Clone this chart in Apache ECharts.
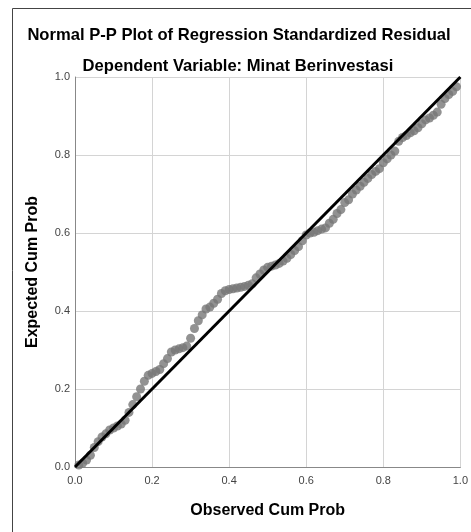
<!DOCTYPE html>
<html lang="en">

<head>
  <meta charset="UTF-8">
  <title>Normal P-P Plot</title>
  <script src="https://cdn.jsdelivr.net/npm/echarts@6/dist/echarts.min.js"></script>
</head>

<body style="margin:0">
  <div id="chart" style="width: 471px; height: 532px;"></div>
  <script>
    // observed cum prob (x) and expected cum prob (y)
    var observed = [
      0.01, 0.02, 0.03, 0.04, 0.05, 0.06, 0.07, 0.08, 0.09, 0.10,
      0.11, 0.12, 0.13, 0.14, 0.15, 0.16, 0.17, 0.18, 0.19, 0.20,
      0.21, 0.22, 0.23, 0.24, 0.25, 0.26, 0.27, 0.28, 0.29, 0.30,
      0.31, 0.32, 0.33, 0.34, 0.35, 0.36, 0.37, 0.38, 0.39, 0.40,
      0.41, 0.42, 0.43, 0.44, 0.45, 0.46, 0.47, 0.48, 0.49, 0.50,
      0.51, 0.52, 0.53, 0.54, 0.55, 0.56, 0.57, 0.58, 0.59, 0.60,
      0.61, 0.62, 0.63, 0.64, 0.65, 0.66, 0.67, 0.68, 0.69, 0.70,
      0.71, 0.72, 0.73, 0.74, 0.75, 0.76, 0.77, 0.78, 0.79, 0.80,
      0.81, 0.82, 0.83, 0.84, 0.85, 0.86, 0.87, 0.88, 0.89, 0.90,
      0.91, 0.92, 0.93, 0.94, 0.95, 0.96, 0.97, 0.98, 0.99
    ];
    var expected = [
      0.005, 0.01, 0.018, 0.03, 0.05, 0.065, 0.077, 0.085, 0.095, 0.10,
      0.105, 0.11, 0.12, 0.14, 0.16, 0.18, 0.20, 0.22, 0.235, 0.24,
      0.245, 0.25, 0.265, 0.278, 0.295, 0.30, 0.303, 0.306, 0.31, 0.33,
      0.355, 0.375, 0.39, 0.405, 0.41, 0.42, 0.43, 0.445, 0.452, 0.455,
      0.457, 0.459, 0.461, 0.463, 0.466, 0.47, 0.485, 0.495, 0.505, 0.512,
      0.515, 0.518, 0.522, 0.528, 0.535, 0.545, 0.555, 0.565, 0.58, 0.595,
      0.60, 0.602, 0.606, 0.61, 0.613, 0.625, 0.635, 0.65, 0.66, 0.678,
      0.685, 0.70, 0.71, 0.72, 0.73, 0.74, 0.75, 0.758, 0.765, 0.78,
      0.79, 0.80, 0.81, 0.835, 0.845, 0.85, 0.857, 0.862, 0.87, 0.88,
      0.89, 0.895, 0.902, 0.91, 0.93, 0.945, 0.955, 0.963, 0.975
    ];
    var diagonal = [[0, 0], [1, 1]];
    var ticks = [0, 0.2, 0.4, 0.6, 0.8, 1.0];

    var points = observed.map(function (x, i) { return [x, expected[i]]; });

    var myChart = echarts.init(document.getElementById('chart'));
    var font = 'Liberation Sans, Arial, sans-serif';

    var option = {
      animation: false,
      backgroundColor: '#fff',
      graphic: [{
        type: 'rect',
        shape: { x: 12.5, y: 8.5, width: 600, height: 600 },
        style: { fill: 'none', stroke: '#444', lineWidth: 1 }
      }],
      title: [{
        text: 'Normal P-P Plot of Regression Standardized Residual',
        left: 234, top: 22, textAlign: 'center',
        textStyle: { fontFamily: font, fontSize: 16.6, fontWeight: 'bold', color: '#000' }
      }, {
        text: 'Dependent Variable: Minat Berinvestasi',
        left: 233, top: 53, textAlign: 'center',
        textStyle: { fontFamily: font, fontSize: 16.6, fontWeight: 'bold', color: '#000' }
      }],
      grid: { left: 75, top: 77, width: 390, height: 390 },
      xAxis: {
        type: 'value', min: 0, max: 1, interval: 0.2,
        name: 'Observed Cum Prob', nameLocation: 'middle', nameGap: 36,
        nameTextStyle: { fontFamily: font, fontSize: 16, fontWeight: 'bold', color: '#000' },
        axisLine: { lineStyle: { color: '#888' } },
        axisTick: { show: false },
        axisLabel: {
          margin: 8, fontFamily: font, fontSize: 11, color: '#444',
          formatter: function (v) { return ticks.indexOf(v) >= 0 ? v.toFixed(1) : ''; }
        },
        splitLine: { show: true, lineStyle: { color: '#d4d4d4' } }
      },
      yAxis: {
        type: 'value', min: 0, max: 1, interval: 0.2,
        name: 'Expected Cum Prob', nameLocation: 'middle', nameGap: 34,
        nameTextStyle: { fontFamily: font, fontSize: 16, fontWeight: 'bold', color: '#000' },
        axisLine: { show: true, lineStyle: { color: '#888' } },
        axisTick: { show: false },
        axisLabel: {
          margin: 5, fontFamily: font, fontSize: 11, color: '#444',
          formatter: function (v) { return ticks.indexOf(v) >= 0 ? v.toFixed(1) : ''; }
        },
        splitLine: { show: true, lineStyle: { color: '#d4d4d4' } }
      },
      series: [{
        type: 'scatter',
        data: points,
        symbolSize: 9,
        itemStyle: { color: '#777' }
      }, {
        type: 'line',
        data: diagonal,
        symbol: 'none',
        lineStyle: { color: '#000', width: 3 }
      }]
    };

    myChart.setOption(option);
  </script>
</body>

</html>
